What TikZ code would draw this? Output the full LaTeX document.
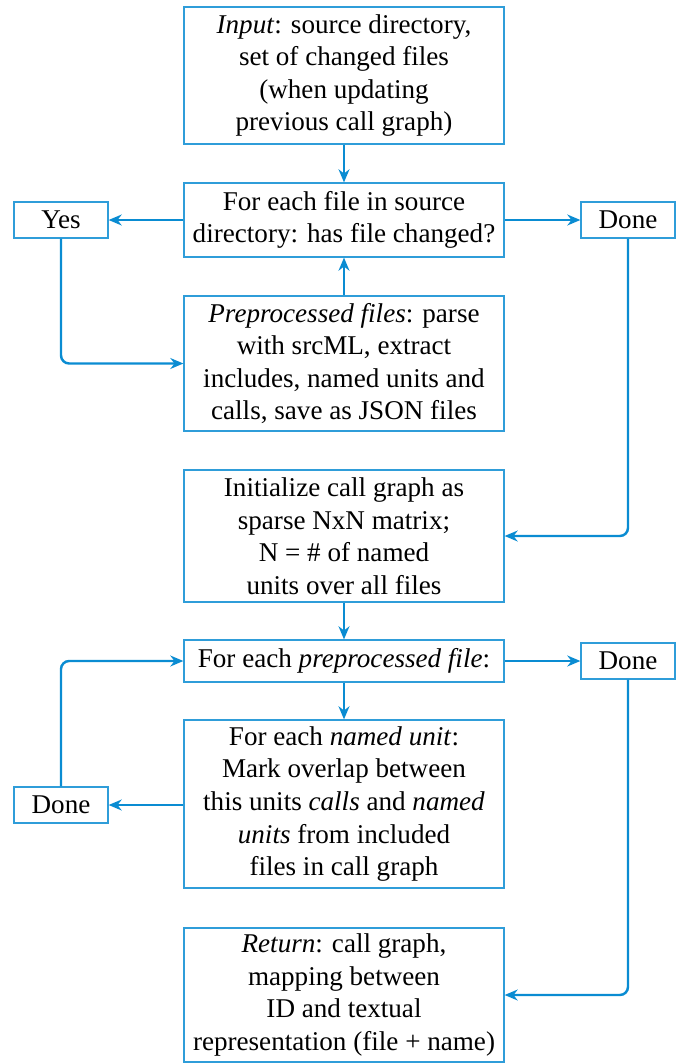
\documentclass[tikz,border=0pt]{standalone}
\usepackage{fontspec}
\setmainfont{Liberation Serif}
\usetikzlibrary{arrows.meta}
\definecolor{flow}{RGB}{10,140,210}
\tikzset{
  box/.style={draw=flow!85, line width=0.45pt, align=center, inner sep=1pt, minimum width=118.07pt, font=\fontsize{10pt}{12pt}\selectfont},
  small/.style={draw=flow!85, line width=0.45pt, align=center, inner sep=1pt, minimum width=34.68pt, minimum height=13.28pt, font=\fontsize{10pt}{12pt}\selectfont},
  arr/.style={draw=flow, line width=0.9pt, -{Stealth[length=4.8pt, width=4pt, inset=1.5pt]}, rounded corners=3pt}
}
\begin{document}
\begin{tikzpicture}[x=0.36896pt, y=-0.36896pt]
\useasboundingbox (0,0) rectangle (683,1063);
\node[box, minimum height=50.55pt] (input) at (344,75.5) {\textit{Input}: source directory,\\ set of changed files\\ (when updating\\ previous call graph)};
\node[box, minimum height=27.3pt] (foreach) at (344,220) {For each file in source\\ directory: has file changed?};
\node[small] (yes) at (61,220) {Yes};
\node[small] (done1) at (628,220) {Done};
\node[box, minimum height=49.8pt] (pre) at (344,363.5) {\textit{Preprocessed files}: parse\\ with srcML, extract\\ includes, named units and\\ calls, save as JSON files};
\node[box, minimum height=48.7pt] (init) at (344,536) {Initialize call graph as\\ sparse NxN matrix;\\ N = \# of named\\ units over all files};
\node[box, minimum height=15.5pt] (forpre) at (344,661) {For each \textit{preprocessed file}:};
\node[small] (done2) at (628,661) {Done};
\node[box, minimum height=62pt] (named) at (344,804) {For each \textit{named unit}:\\ Mark overlap between\\ this units \textit{calls} and \textit{named}\\ \textit{units} from included\\ files in call graph};
\node[small] (done3) at (61,805) {Done};
\node[box, minimum height=49.4pt] (ret) at (344,995) {\textit{Return}: call graph,\\ mapping between\\ ID and textual\\ representation (file + name)};

\draw[arr] (input) -- (foreach);
\draw[arr] (pre) -- (foreach);
\draw[arr] (foreach) -- (yes);
\draw[arr] (foreach) -- (done1);
\draw[arr] (yes.south) |- (pre.west);
\draw[arr] (done1.south) |- (init.east);
\draw[arr] (init) -- (forpre);
\draw[arr] (forpre) -- (done2);
\draw[arr] (forpre) -- (named);
\draw[arr] (named.west |- done3) -- (done3);
\draw[arr] (done3.north) |- (forpre.west);
\draw[arr] (done2.south) |- (ret.east);
\end{tikzpicture}
\end{document}
